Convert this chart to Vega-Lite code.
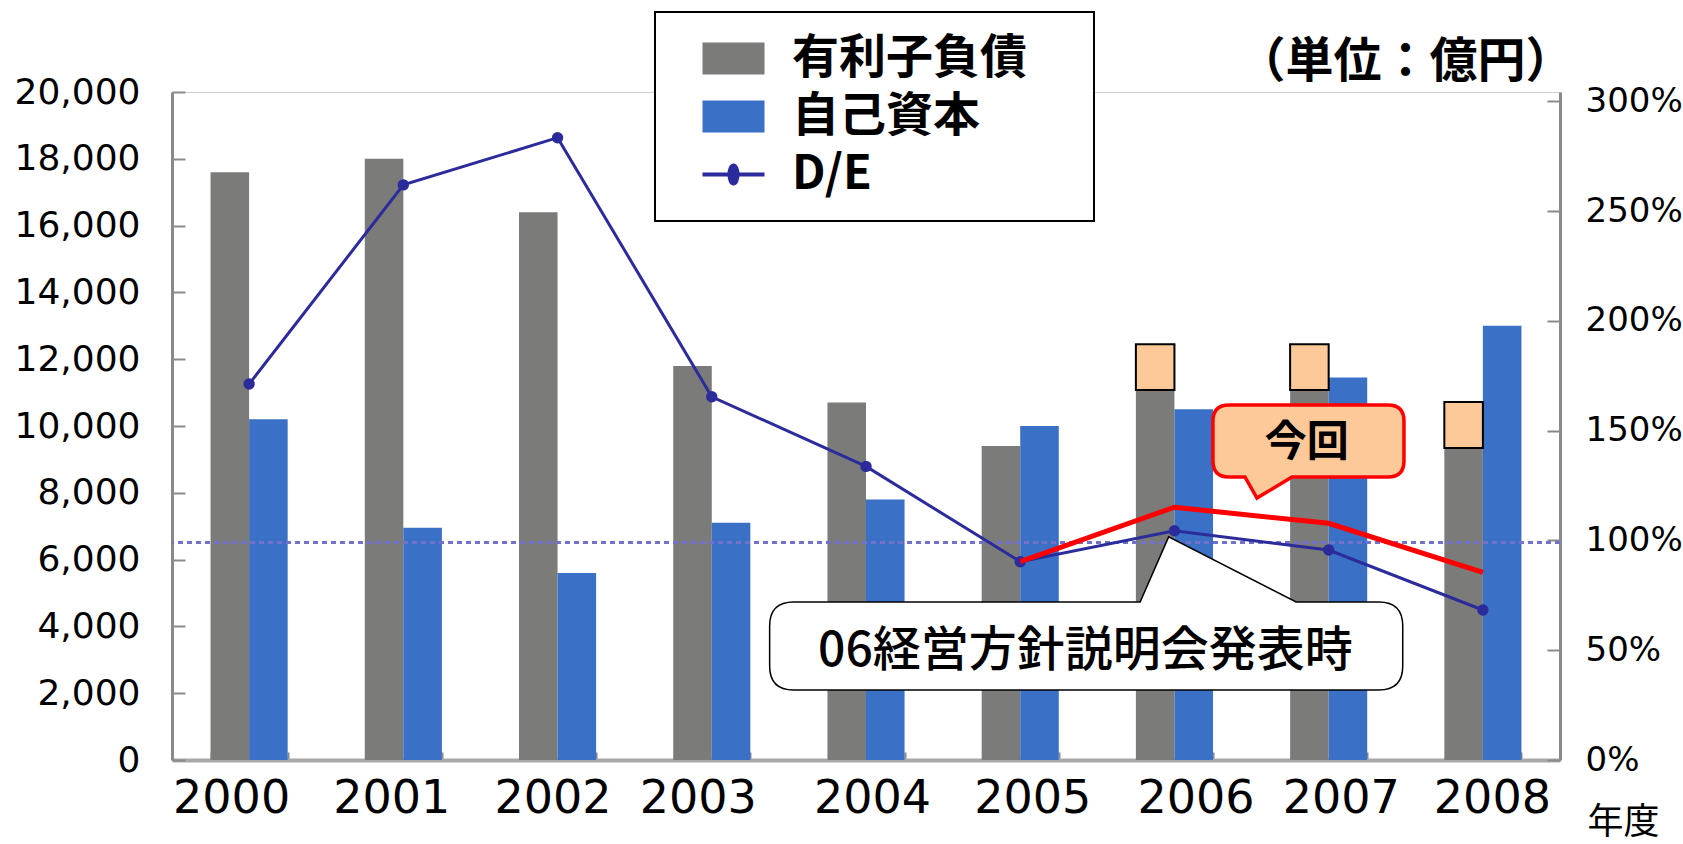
{
  "$schema": "https://vega.github.io/schema/vega-lite/v6.json",
  "width": 1388,
  "height": 668,
  "autosize": {"type": "none"},
  "padding": {"left": 172, "top": 92, "right": 123, "bottom": 84},
  "background": "white",
  "config": {"view": {"stroke": "#d0d0d0", "strokeWidth": 1}, "font": "Noto Sans CJK JP"},
  "datasets": {
    "finance": [
      {"year": "2000", "series": "有利子負債", "value": 17600},
      {"year": "2000", "series": "自己資本", "value": 10200},
      {"year": "2001", "series": "有利子負債", "value": 18000},
      {"year": "2001", "series": "自己資本", "value": 6950},
      {"year": "2002", "series": "有利子負債", "value": 16400},
      {"year": "2002", "series": "自己資本", "value": 5600},
      {"year": "2003", "series": "有利子負債", "value": 11800},
      {"year": "2003", "series": "自己資本", "value": 7100},
      {"year": "2004", "series": "有利子負債", "value": 10700},
      {"year": "2004", "series": "自己資本", "value": 7800},
      {"year": "2005", "series": "有利子負債", "value": 9400},
      {"year": "2005", "series": "自己資本", "value": 10000},
      {"year": "2006", "series": "有利子負債", "value": 11500},
      {"year": "2006", "series": "自己資本", "value": 10500},
      {"year": "2007", "series": "有利子負債", "value": 11400},
      {"year": "2007", "series": "自己資本", "value": 11450},
      {"year": "2008", "series": "有利子負債", "value": 9600},
      {"year": "2008", "series": "自己資本", "value": 13000}
    ],
    "masks": [
      {"year": "2006", "series": "有利子負債", "top": 12450, "bottom": 11080},
      {"year": "2007", "series": "有利子負債", "top": 12450, "bottom": 11080},
      {"year": "2008", "series": "有利子負債", "top": 10720, "bottom": 9340}
    ],
    "de": [
      {"year": "2000", "series": "D/E", "ratio": 171.2},
      {"year": "2001", "series": "D/E", "ratio": 261.9},
      {"year": "2002", "series": "D/E", "ratio": 283.4},
      {"year": "2003", "series": "D/E", "ratio": 165.4},
      {"year": "2004", "series": "D/E", "ratio": 133.7},
      {"year": "2005", "series": "D/E", "ratio": 90.3},
      {"year": "2006", "series": "D/E", "ratio": 104.4},
      {"year": "2007", "series": "D/E", "ratio": 95.6},
      {"year": "2008", "series": "D/E", "ratio": 68.3}
    ],
    "plan": [
      {"year": "2005", "ratio": 90.3},
      {"year": "2006", "ratio": 115.1},
      {"year": "2007", "ratio": 107.8},
      {"year": "2008", "ratio": 85.4}
    ],
    "reference": [{"ratio": 99}],
    "callout_now": [{"year": "2007", "value": 9500, "label": "今回"}],
    "callout_plan": [{"year": "2006", "value": 6680, "label": "06経営方針説明会発表時"}]
  },
  "resolve": {"scale": {"y": "independent"}},
  "layer": [
    {
      "layer": [
        {
          "data": {"name": "finance"},
          "mark": {"type": "bar"},
          "encoding": {
            "x": {
              "field": "year", "type": "ordinal",
              "scale": {"paddingInner": 0.5, "paddingOuter": 0.25},
              "axis": {
                "title": "年度", "titleX": 1451, "titleY": 62, "titleAlign": "center", "titleBaseline": "middle", "titleFontSize": 36, "titleFontWeight": "normal", "titleFont": "Noto Sans CJK JP", "titleColor": "black",
                "labelAngle": 0, "labelFont": "DejaVu Sans", "labelFontSize": 46, "labelColor": "black", "labelPadding": 24,
                "labelOffset": {
                  "condition": [
                    {"test": "datum.value === '2000'", "value": -18},
                    {"test": "datum.value === '2001'", "value": -12},
                    {"test": "datum.value === '2002'", "value": -5},
                    {"test": "datum.value === '2003'", "value": -14},
                    {"test": "datum.value === '2004'", "value": 6},
                    {"test": "datum.value === '2005'", "value": 12},
                    {"test": "datum.value === '2006'", "value": 21},
                    {"test": "datum.value === '2007'", "value": 12},
                    {"test": "datum.value === '2008'", "value": 9}
                  ],
                  "value": 0
                },
                "tickBand": "extent", "tickSize": -8, "tickColor": "#8a8a8a", "tickWidth": 2, "domainColor": "#a8a8a8", "domainWidth": 4
              }
            },
            "xOffset": {"field": "series", "type": "nominal", "scale": {"domain": ["有利子負債", "自己資本"]}},
            "y": {
              "field": "value", "type": "quantitative",
              "scale": {"domain": [0, 20000]},
              "axis": {"title": null, "values": [0, 2000, 4000, 6000, 8000, 10000, 12000, 14000, 16000, 18000, 20000], "format": ",d", "labelFont": "DejaVu Sans", "labelFontSize": 36, "labelColor": "black", "grid": false, "domainColor": "#8a8a8a", "domainWidth": 3, "tickColor": "#8a8a8a", "tickWidth": 2, "tickSize": -13, "labelPadding": 45}
            },
            "color": {
              "field": "series", "type": "nominal",
              "scale": {"domain": ["有利子負債", "自己資本", "D/E"], "range": ["#7b7c79", "#3a70c5", "#2b2b9c"]},
              "legend": {
                "title": ".", "titleOrient": "right", "titlePadding": 40, "titleOpacity": 0, "titleFontSize": 10,
                "orient": "none", "legendX": 483, "legendY": -80, "direction": "vertical",
                "strokeColor": "black", "fillColor": "white", "padding": 23, "symbolOffset": 32, "labelOffset": 35,
                "labelFont": "Noto Sans CJK JP", "labelFontSize": 47, "labelFontWeight": "bold", "labelColor": "black", "labelLimit": 600,
                "symbolSize": 3844, "rowPadding": 10,
                "encode": {
                  "legend": {"update": {"strokeWidth": {"value": 2}}},
                  "symbols": {"update": {
                    "shape": {"signal": "datum.value === 'D/E' ? 'M-1,0H1M0.13,0C0.13,0.1602 0.0718,0.29 0,0.29C-0.0718,0.29 -0.13,0.1602 -0.13,0C-0.13,-0.1602 -0.0718,-0.29 0,-0.29C0.0718,-0.29 0.13,-0.1602 0.13,0Z' : 'M-1,-0.516H1V0.516H-1Z'"},
                    "fill": {"signal": "scale('color', datum.value)"},
                    "stroke": {"signal": "scale('color', datum.value)"},
                    "strokeWidth": {"signal": "datum.value === 'D/E' ? 4 : 0"},
                    "opacity": {"value": 1},
                    "fillOpacity": {"value": 1}
                  }}
                }
              }
            }
          }
        },
        {
          "data": {"name": "masks"},
          "mark": {"type": "bar", "fill": "#fdc998", "stroke": "black", "strokeWidth": 2},
          "encoding": {
            "x": {"field": "year", "type": "ordinal"},
            "xOffset": {"field": "series", "type": "nominal"},
            "y": {"field": "top", "type": "quantitative"},
            "y2": {"field": "bottom"}
          }
        }
      ]
    },
    {
      "layer": [
        {
          "data": {"name": "reference"},
          "mark": {"type": "rule", "strokeDash": [5, 4], "color": "#7272cc", "strokeWidth": 3},
          "encoding": {
            "y": {
              "field": "ratio", "type": "quantitative",
              "scale": {"domain": [0, 304.2], "nice": false},
              "axis": {
                "orient": "right", "title": "（単位：億円）", "titleAngle": 0, "titleX": -155, "titleY": -30, "titleAlign": "center", "titleBaseline": "middle", "titleFont": "Noto Sans CJK JP", "titleFontSize": 48, "titleFontWeight": "bold", "titleColor": "black",
                "values": [0, 50, 100, 150, 200, 250, 300], "labelExpr": "datum.value + '%'", "labelFont": "DejaVu Sans", "labelFontSize": 34, "labelColor": "black", "grid": false, "domainColor": "#8a8a8a", "domainWidth": 3, "tickColor": "#8a8a8a", "tickWidth": 2, "tickSize": -13, "labelPadding": 38
              }
            }
          }
        },
        {
          "data": {"name": "de"},
          "mark": {"type": "line", "strokeWidth": 3, "point": {"filled": true, "size": 130, "opacity": 1}},
          "encoding": {
            "x": {"field": "year", "type": "ordinal"},
            "y": {"field": "ratio", "type": "quantitative"},
            "color": {"field": "series", "type": "nominal"}
          }
        },
        {
          "data": {"name": "plan"},
          "mark": {"type": "line", "color": "#ff0000", "strokeWidth": 5},
          "encoding": {
            "x": {"field": "year", "type": "ordinal"},
            "y": {"field": "ratio", "type": "quantitative"}
          }
        }
      ]
    },
    {
      "layer": [
        {
          "data": {"name": "callout_now"},
          "mark": {"type": "point", "shape": "M-99.7,-37.7H59.3Q75.3,-37.7 75.3,-21.7V18.3Q75.3,34.3 59.3,34.3H-36.7L-71.7,55.3L-83.7,34.3H-99.7Q-115.7,34.3 -115.7,18.3V-21.7Q-115.7,-37.7 -99.7,-37.7Z", "size": 4, "filled": true, "fill": "#fdc998", "stroke": "#ff0000", "strokeWidth": 3.5, "opacity": 1},
          "encoding": {
            "x": {"field": "year", "type": "ordinal"},
            "y": {"field": "value", "type": "quantitative", "scale": {"domain": [0, 20000]}, "axis": null}
          }
        },
        {
          "data": {"name": "callout_now"},
          "mark": {"type": "text", "font": "Noto Sans CJK JP", "fontSize": 42, "fontWeight": "bold", "color": "black", "dx": -22, "dy": 0, "baseline": "middle", "align": "center"},
          "encoding": {
            "x": {"field": "year", "type": "ordinal"},
            "y": {"field": "value", "type": "quantitative"},
            "text": {"field": "label"}
          }
        },
        {
          "data": {"name": "callout_plan"},
          "mark": {"type": "point", "shape": "M-380.8,65.1H-34.3L-5.8,0L121.7,65.1H204.3Q228.3,65.1 228.3,89.1V129.1Q228.3,153.1 204.3,153.1H-380.8Q-404.8,153.1 -404.8,129.1V89.1Q-404.8,65.1 -380.8,65.1Z", "size": 4, "filled": true, "fill": "white", "stroke": "black", "strokeWidth": 1.5, "opacity": 1},
          "encoding": {
            "x": {"field": "year", "type": "ordinal"},
            "y": {"field": "value", "type": "quantitative"}
          }
        },
        {
          "data": {"name": "callout_plan"},
          "mark": {"type": "text", "font": "Noto Sans CJK JP", "fontSize": 48, "fontWeight": 500, "color": "black", "dx": -89, "dy": 115, "baseline": "middle", "align": "center"},
          "encoding": {
            "x": {"field": "year", "type": "ordinal"},
            "y": {"field": "value", "type": "quantitative"},
            "text": {"field": "label"}
          }
        }
      ]
    }
  ]
}
